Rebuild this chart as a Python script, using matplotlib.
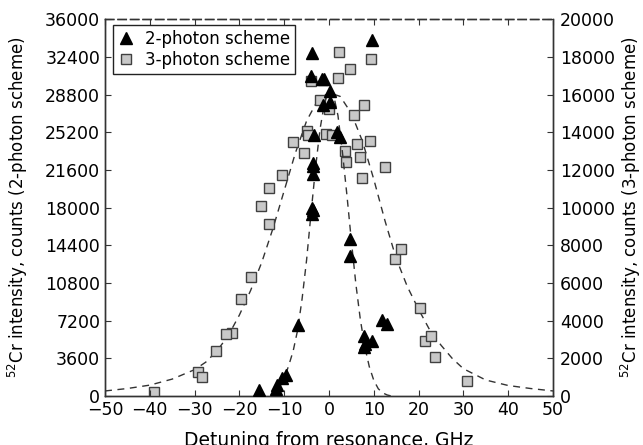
import numpy as np
import matplotlib.pyplot as plt

# 2-photon scheme (left axis)
det_2ph = [-3.8, 9.5, -4.0, -1.6, -1.1, 0.2, -1.4, 0.3, -3.3, 1.8, 2.4, -3.6, -3.5, -3.6,
           -3.7, -3.8, -3.6, 4.8, 4.8, 7.8, 8.1, 9.6, 7.9, 11.8, 13.0, -7.0, -9.6, -10.4,
           -11.5, -11.9, -15.6]
cnt_2ph = [32800, 34000, 30600, 30300, 30300, 29100, 27800, 28100, 24900, 25200, 24700,
           22300, 22000, 21200, 18000, 17400, 17800, 15000, 13400, 5700, 5000, 5300, 4700,
           7300, 6900, 6800, 2000, 1700, 1100, 700, 550]

# 3-photon scheme (right axis)
det_3ph = [2.2, -4.1, 1.9, 4.6, 9.3, -2.0, 0.0, 7.8, 5.6, -4.8, -4.6, -0.7, 0.6, -8.1, -5.6,
           3.6, 3.8, 6.3, 9.1, 7.0, 7.4, 12.6, -10.4, -13.5, -15.2, -13.5, 14.8, 16.1, 20.4,
           21.5, 22.7, 23.6, 30.9, -17.4, -19.6, -21.7, -23.0, -25.2, -29.3, -28.3, -39.0]
cnt_3ph = [18270, 16710, 16900, 17350, 17860, 15700, 15210, 15440, 14910, 14060, 13850,
           13900, 13830, 13490, 12880, 13010, 12400, 13370, 13530, 12700, 11580, 12170,
           11720, 11050, 10080, 9120, 7250, 7800, 4650, 2930, 3200, 2050, 800, 6330, 5150,
           3330, 3270, 2400, 1290, 990, 230]

# fit curves
fit2_x = [-12.6, -11.0, -10.0, -9.0, -8.0, -7.0, -6.0, -5.0, -4.0, -3.0, -2.0, -1.0, 0.0,
          1.0, 2.0, 3.0, 4.0, 5.0, 6.0, 7.0, 8.0, 9.0, 10.0, 11.0, 12.0, 13.0, 14.0]
fit2_y = [150, 800, 1700, 2900, 4300, 6300, 9300, 13000, 17500, 21800, 25500, 28000, 29200,
          28800, 26800, 23300, 19200, 14800, 10700, 7300, 4700, 2800, 1500, 700, 300, 100, 0]

fit3_x = [-50, -45, -40, -35, -30, -27.5, -25, -22.5, -20, -17.5, -15, -12.5, -10, -7.5, -5,
          -2.5, 0, 2.5, 5, 7.5, 10, 12.5, 15, 17.5, 20, 22.5, 25, 27.5, 30, 35, 40, 45, 50]
fit3_y = [270, 400, 580, 900, 1400, 1800, 2400, 3200, 4300, 5600, 7100, 8900, 10900, 12900,
          14600, 15700, 16100, 15900, 15000, 13500, 11500, 9300, 7300, 5800, 4600, 3500,
          2700, 2000, 1450, 850, 560, 400, 270]

plt.rcParams['font.family'] = 'DejaVu Sans'
plt.rcParams['mathtext.fontset'] = 'dejavusans'

fig, ax = plt.subplots(figsize=(6.43, 4.45), dpi=100)
fig.subplots_adjust(left=0.1633, right=0.860, bottom=0.110, top=0.957)
ax2 = ax.twinx()

dash = (0, (5, 4))
ax.plot(fit2_x, fit2_y, color='#333333', lw=1.0, ls=dash, zorder=2)
ax2.plot(fit3_x, fit3_y, color='#333333', lw=1.0, ls=dash, zorder=2)

ax2.plot(det_3ph, cnt_3ph, 's', ms=6.5, mfc='#c8c8c8', mec='#404040', mew=1.0,
         label='3-photon scheme', zorder=3)
ax.plot(det_2ph, cnt_2ph, '^', ms=8.5, color='black', label='2-photon scheme', zorder=3)

ax.set_zorder(ax2.get_zorder() + 1)
ax.patch.set_visible(False)

ax.set_xlim(-50, 50)
ax.set_ylim(0, 36000)
ax2.set_ylim(0, 20000)
ax.set_xticks(np.arange(-50, 51, 10))
ax.set_yticks(np.arange(0, 36001, 3600))
ax2.set_yticks(np.arange(0, 20001, 2000))

ax.tick_params(axis='both', direction='in', labelsize=12.5, length=4, top=True,
               color='#333333')
ax2.tick_params(axis='y', direction='in', labelsize=12.5, length=4, pad=5, color='#333333')

for a in (ax, ax2):
    for s in a.spines.values():
        s.set_color('#333333')
        s.set_linewidth(1.0)
ax.spines['top'].set_linestyle((0, (6, 3)))
ax2.spines['top'].set_linestyle((0, (6, 3)))

ax.set_xlabel('Detuning from resonance, GHz', fontsize=13.5, labelpad=9)
ax.set_ylabel('$^{52}$Cr intensity, counts (2-photon scheme)', fontsize=12, labelpad=11)
ax2.set_ylabel('$^{52}$Cr intensity, counts (3-photon scheme)', fontsize=12, labelpad=3)

h1, l1 = ax.get_legend_handles_labels()
h2, l2 = ax2.get_legend_handles_labels()
leg = ax.legend(h1 + h2, l1 + l2, loc='upper left', bbox_to_anchor=(8 / 448, 1 - 6 / 377),
                borderaxespad=0, fontsize=12, fancybox=False, edgecolor='#222222',
                framealpha=1, handlelength=1.0, handletextpad=0.6, borderpad=0.3,
                labelspacing=0.15, numpoints=1)
leg.get_frame().set_linewidth(1.0)

fig.savefig('out.png', dpi=100)
